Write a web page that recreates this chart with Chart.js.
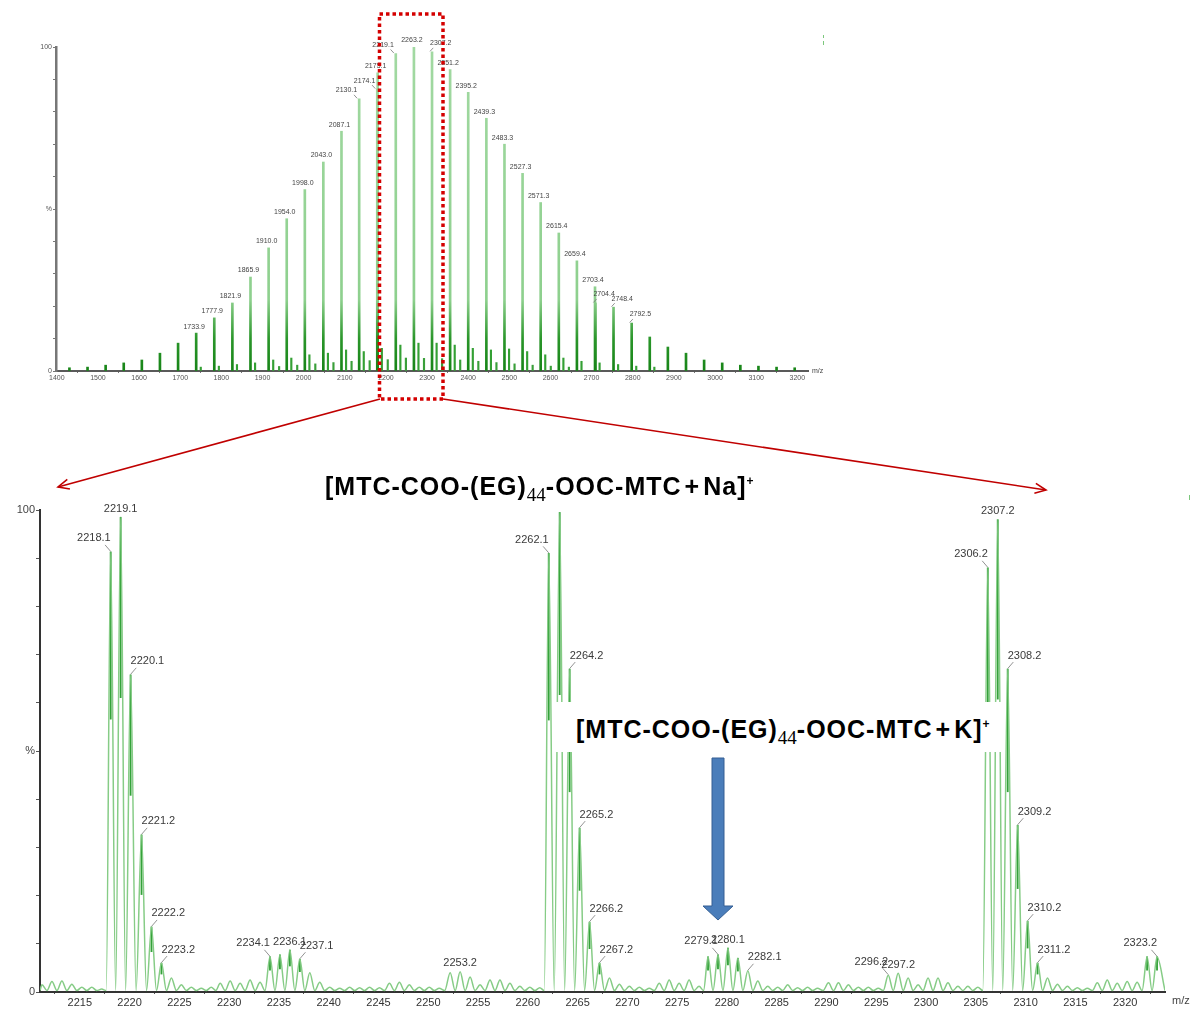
<!DOCTYPE html>
<html>
<head>
<meta charset="utf-8">
<script src="https://cdn.jsdelivr.net/npm/chart.js@4.4.1/dist/chart.umd.min.js"></script>
<style>
  html, body { margin: 0; padding: 0; background: #fff; }
  #page { position: relative; width: 1192px; height: 1010px; overflow: hidden; font-family: "Liberation Sans", Arial, sans-serif; }
  #topBox { position: absolute; left: 0; top: 0; width: 840px; height: 400px; }
  #botBox { position: absolute; left: 0; top: 495px; width: 1192px; height: 515px; }
  #kbox { position: absolute; left: 556px; top: 702px; width: 448px; height: 50px; background: #fff; }
  .formula { position: absolute; font-weight: bold; font-size: 25px; line-height: 28px; letter-spacing: 1px; color: #000; white-space: nowrap; }
  .formula .sb { font-family: "Liberation Serif", "Times New Roman", serif; font-weight: normal; font-size: 19px; letter-spacing: 0; position: relative; top: 6px; }
  .formula .pl { margin: 0 3px; }
  .formula .sp { font-size: 12px; position: relative; top: -10px; }
  .mz { position: absolute; color: #444; }
  .tick { position: absolute; background: #7cc77c; width: 1px; }
  svg { position: absolute; left: 0; top: 0; }
</style>
</head>
<body>
<div id="page">
  <div id="topBox"><canvas id="topChart"></canvas></div>
  <div id="botBox"><canvas id="botChart"></canvas></div>
  <div id="kbox"></div>
  <div class="formula" style="left:325px;top:472px">[MTC-COO-(EG)<span class="sb">44</span>-OOC-MTC<span class="pl">+</span>Na]<span class="sp">+</span></div>
  <div class="formula" style="left:576px;top:715px">[MTC-COO-(EG)<span class="sb">44</span>-OOC-MTC<span class="pl">+</span>K]<span class="sp">+</span></div>
  <div class="mz" style="left:812px;top:367px;font-size:7px">m/z</div>
  <div class="mz" style="left:1172px;top:994px;font-size:11px">m/z</div>
  <div class="tick" style="left:823px;top:35px;height:3px"></div>
  <div class="tick" style="left:823px;top:41px;height:4px"></div>
  <div class="tick" style="left:1189px;top:495px;height:5px"></div>
  <svg width="1192" height="1010">
    <defs>
      <marker id="head" markerUnits="userSpaceOnUse" markerWidth="14" markerHeight="14" refX="12" refY="6" orient="auto">
        <path d="M1,1 L12,6 L1,11" fill="none" stroke="#c00000" stroke-width="1.6"/>
      </marker>
    </defs>
    <rect x="379.5" y="14" width="63.5" height="385" fill="none" stroke="#d40000" stroke-width="3.5" stroke-dasharray="3.5 3"/>
    <line x1="380" y1="399" x2="58" y2="487" stroke="#c00000" stroke-width="1.6" marker-end="url(#head)"/>
    <line x1="443" y1="399" x2="1046" y2="490" stroke="#c00000" stroke-width="1.6" marker-end="url(#head)"/>
    <polygon points="712,758 724,758 724,906 733,906 718,920 703,906 712,906" fill="#4a7dba" stroke="#355f93" stroke-width="1"/>
  </svg>
</div>

<script>
/* ---- overview spectrum (m/z 1400-3200) ---- */
const topMainMz  = [1425.8, 1469.8, 1513.8, 1557.8, 1601.8, 1645.8, 1689.9, 1733.9, 1777.9, 1821.9, 1865.9, 1910.0, 1954.0,
                    1998.0, 2043.0, 2087.1, 2130.1, 2174.1, 2175.1, 2219.1, 2263.2, 2307.2, 2351.2, 2395.2, 2439.3, 2483.3,
                    2527.3, 2571.3, 2615.4, 2659.4, 2703.4, 2704.4, 2748.4, 2792.5, 2836.5, 2880.5, 2924.6, 2968.6, 3012.6,
                    3056.7, 3100.7, 3144.7, 3188.8];
const topMainPct = [1.0, 1.2, 1.8, 2.5, 3.4, 5.5, 8.6, 11.7, 16.4, 21.0, 29.0, 38.0, 47.0,
                    56.0, 64.5, 74.0, 84.0, 87.0, 92.0, 98.0, 100.0, 98.5, 93.0, 86.0, 78.0, 70.0,
                    61.0, 52.0, 42.6, 34.0, 26.0, 21.0, 19.7, 14.8, 10.5, 7.4, 5.5, 3.4, 2.5,
                    1.8, 1.5, 1.2, 1.0];
// K+ adduct series (+16)
const topKMz  = [1749.9, 1793.9, 1837.9, 1881.9, 1926.0, 1970.0, 2014.0, 2059.0, 2103.1, 2146.1, 2190.1, 2235.1, 2279.1,
                 2323.2, 2367.2, 2411.2, 2455.3, 2499.3, 2543.3, 2587.3, 2631.4, 2675.4, 2719.4, 2764.4, 2808.5, 2852.5];
const topKPct = [1.2, 1.5, 2.0, 2.5, 3.4, 4.0, 5.0, 5.5, 6.5, 6.0, 7.0, 8.0, 8.6,
                 8.6, 8.0, 7.0, 6.5, 6.8, 6.0, 5.0, 4.0, 3.0, 2.5, 2.0, 1.5, 1.2];
// third, weaker series (+34)
const topMinorMz  = [1944.0, 1988.0, 2032.0, 2076.1, 2120.1, 2164.1, 2208.1, 2252.2, 2296.2, 2340.2, 2384.2, 2428.3, 2472.3,
                     2516.3, 2560.3, 2604.4, 2648.4];
const topMinorPct = [1.4, 1.8, 2.2, 2.6, 3.0, 3.2, 3.5, 4.0, 3.9, 3.8, 3.4, 3.0, 2.6,
                     2.2, 1.8, 1.5, 1.2];
const topLabelMz = [1733.9, 1777.9, 1821.9, 1865.9, 1910.0, 1954.0, 1998.0, 2043.0, 2087.1, 2130.1, 2174.1, 2175.1,
                    2219.1, 2263.2, 2307.2, 2351.2, 2395.2, 2439.3, 2483.3, 2527.3, 2571.3, 2615.4, 2659.4, 2703.4,
                    2704.4, 2748.4, 2792.5];

/* ---- zoomed spectrum (m/z 2211-2324) ---- */
const zoomMz = [2211.2, 2212.2, 2213.2, 2214.2, 2215.2, 2216.2, 2217.2, 2218.1, 2219.1, 2220.1, 2221.2, 2222.2, 2223.2,
                2224.2, 2225.2, 2226.2, 2227.2, 2228.2, 2229.1, 2230.1, 2231.1, 2232.1, 2233.1, 2234.1, 2235.1, 2236.1,
                2237.1, 2238.1, 2239.1, 2240.1, 2241.1, 2242.1, 2243.1, 2244.1, 2245.1, 2246.1, 2247.1, 2248.1, 2249.1,
                2250.1, 2251.1, 2252.2, 2253.2, 2254.2, 2255.2, 2256.2, 2257.2, 2258.2, 2259.2, 2260.2, 2261.2, 2262.1,
                2263.2, 2264.2, 2265.2, 2266.2, 2267.2, 2268.2, 2269.2, 2270.2, 2271.2, 2272.2, 2273.2, 2274.2, 2275.2,
                2276.2, 2277.2, 2278.1, 2279.1, 2280.1, 2281.1, 2282.1, 2283.1, 2284.1, 2285.1, 2286.1, 2287.1, 2288.1,
                2289.1, 2290.2, 2291.2, 2292.2, 2293.2, 2294.2, 2295.2, 2296.2, 2297.2, 2298.2, 2299.2, 2300.2, 2301.2,
                2302.2, 2303.2, 2304.2, 2305.2, 2306.2, 2307.2, 2308.2, 2309.2, 2310.2, 2311.2, 2312.2, 2313.2, 2314.2,
                2315.2, 2316.2, 2317.2, 2318.2, 2319.2, 2320.2, 2321.2, 2322.2, 2323.2];
const zoomPct = [1.5, 2.2, 2.3, 1.6, 1.0, 1.0, 0.6, 91.3, 98.5, 65.8, 32.6, 13.5, 6.0,
                 2.9, 1.5, 1.0, 0.8, 1.0, 1.8, 2.3, 1.8, 2.5, 2.0, 7.3, 7.7, 8.7,
                 6.8, 4.0, 2.0, 1.0, 0.8, 1.0, 0.9, 1.0, 0.9, 1.8, 2.0, 1.5, 1.0,
                 1.0, 0.8, 4.0, 4.2, 3.1, 1.5, 2.5, 2.5, 1.8, 1.2, 1.0, 0.9, 91.0,
                 99.5, 67.0, 34.0, 14.5, 6.0, 2.9, 1.6, 1.2, 1.0, 0.8, 1.8, 2.5, 1.8,
                 2.5, 1.2, 7.3, 7.7, 9.1, 7.0, 4.4, 2.3, 1.2, 1.0, 1.5, 0.9, 1.0,
                 0.8, 1.9, 1.9, 1.5, 1.0, 1.0, 0.8, 3.5, 3.9, 2.9, 1.5, 2.9, 2.9,
                 1.9, 1.2, 1.2, 1.0, 88.0, 98.0, 67.0, 34.6, 14.7, 6.0, 2.9, 1.6, 1.2,
                 0.9, 0.8, 1.9, 2.5, 1.8, 2.2, 2.0, 7.3, 7.3];
const zoomLabelMz = [2218.1, 2219.1, 2220.1, 2221.2, 2222.2, 2223.2, 2234.1, 2236.1, 2237.1, 2253.2, 2262.1, 2264.2,
                     2265.2, 2266.2, 2267.2, 2279.1, 2280.1, 2282.1, 2296.2, 2297.2, 2306.2, 2307.2, 2308.2, 2309.2,
                     2310.2, 2311.2, 2323.2];
const troughPct = 0.3;   // level the profile falls back to between isotopes

// where each peak label sits: l = left with leader, c = centred, r = right with leader
const topLabelSide = { 2130.1: 'l', 2174.1: 'l', 2219.1: 'l', 2307.2: 'r', 2704.4: 'r', 2748.4: 'r', 2792.5: 'r' };
const zoomLabelSide = { 2219.1: 'c', 2236.1: 'c', 2253.2: 'c', 2280.1: 'c', 2297.2: 'c', 2307.2: 'c',
                        2218.1: 'l', 2234.1: 'l', 2262.1: 'l', 2279.1: 'l', 2296.2: 'l', 2306.2: 'l', 2323.2: 'l' };

function pts(mz, pct) { return mz.map((m, i) => ({ x: m, y: pct[i] })); }

/* rótulos de pico com traço de ligação */
const peakLabels = {
  id: 'peakLabels',
  afterDatasetsDraw(chart, args, o) {
    const { ctx, scales: { x, y } } = chart;
    ctx.save();
    ctx.font = o.font;
    ctx.fillStyle = o.color;
    ctx.strokeStyle = '#777';
    ctx.lineWidth = 0.8;
    ctx.textBaseline = 'bottom';
    o.items.forEach(it => {
      const px = x.getPixelForValue(it.mz), py = y.getPixelForValue(it.h);
      const txt = it.mz.toFixed(1), g = o.gap, l = o.lead;
      if (it.side === 'c') {
        ctx.textAlign = 'center';
        ctx.fillText(txt, px, py - g);
        return;
      }
      const s = it.side === 'l' ? -1 : 1;
      ctx.textAlign = s < 0 ? 'right' : 'left';
      ctx.fillText(txt, px, py - l - 1);
      ctx.beginPath();
      ctx.moveTo(px, py - 0.5);
      ctx.lineTo(px + s * l * 0.8, py - l);
      ctx.stroke();
    });
    ctx.restore();
  }
};

function labelItems(list, mzArr, pctArr, sides) {
  return list.map(m => ({ mz: m, h: pctArr[mzArr.indexOf(m)], side: sides[m] || (sides === topLabelSide ? 'c' : 'r') }));
}

function yTick(v) { return v === 0 ? '0' : v === 100 ? '100' : v === 50 ? '%' : ''; }

function stickGradient(ctx) {
  const a = ctx.chart.chartArea;
  if (!a) return '#3c9c3c';
  const g = ctx.chart.ctx.createLinearGradient(0, a.bottom, 0, a.top);
  g.addColorStop(0, '#178417');
  g.addColorStop(0.1, '#2a962a');
  g.addColorStop(0.22, '#8ed08e');
  g.addColorStop(1, '#a2d9a2');
  return g;
}

/* ---- top chart ---- */
new Chart(document.getElementById('topChart'), {
  type: 'bar',
  data: {
    datasets: [
      { data: pts(topMinorMz, topMinorPct), backgroundColor: '#3a9f3a', barThickness: 1.5 },
      { data: pts(topKMz, topKPct), backgroundColor: '#34a034', barThickness: 1.5 },
      { data: pts(topMainMz, topMainPct), backgroundColor: stickGradient, barThickness: 2 }
    ]
  },
  options: {
    responsive: true, maintainAspectRatio: false, animation: false,
    layout: { padding: { top: 47, right: 32, left: 0, bottom: 0 } },
    plugins: {
      legend: { display: false }, tooltip: { enabled: false },
      peakLabels: { font: '7px "Liberation Sans", Arial', color: '#444', gap: 3, lead: 4,
                    items: labelItems(topLabelMz, topMainMz, topMainPct, topLabelSide) }
    },
    scales: {
      x: { type: 'linear', min: 1398, max: 3226, offset: false,
           afterFit: s => { s.height = 29; },
           ticks: { stepSize: 100, includeBounds: false, autoSkip: false, maxRotation: 0, padding: 1,
                    font: { size: 7, family: 'Liberation Sans' }, color: '#555', callback: v => String(v) },
           grid: { drawOnChartArea: false, tickLength: 2, color: '#777' },
           border: { color: '#5a5a5a', width: 2 } },
      y: { min: 0, max: 100,
           afterFit: s => { s.width = 56; },
           ticks: { stepSize: 10, autoSkip: false, padding: 1, font: { size: 7, family: 'Liberation Sans' },
                    color: '#555', callback: yTick },
           grid: { drawOnChartArea: false, tickLength: 3, color: '#777' },
           border: { color: '#777', width: 2.5 } }
    }
  },
  plugins: [peakLabels]
});

/* ---- bottom chart ---- */
const profile = [];
zoomMz.forEach((m, i) => {
  if (i === 0) profile.push({ x: 2211, y: troughPct });
  profile.push({ x: m, y: zoomPct[i] });
  const next = i < zoomMz.length - 1 ? (m + zoomMz[i + 1]) / 2 : 2324;
  profile.push({ x: next, y: troughPct });
});
const sticks = zoomMz.map((m, i) => ({ x: m, y: zoomPct[i] > 5 ? [zoomPct[i] * 0.62, zoomPct[i]] : null }))
                     .filter(p => p.y);

new Chart(document.getElementById('botChart'), {
  type: 'line',
  data: {
    datasets: [
      { type: 'line', data: profile, borderColor: '#86cc86', borderWidth: 1.5, pointRadius: 0,
        cubicInterpolationMode: 'monotone', fill: false },
      { type: 'bar', data: sticks, backgroundColor: '#34a23a', barThickness: 1.2 }
    ]
  },
  options: {
    responsive: true, maintainAspectRatio: false, animation: false,
    layout: { padding: { top: 15, right: 27, left: 0, bottom: 0 } },
    plugins: {
      legend: { display: false }, tooltip: { enabled: false },
      peakLabels: { font: '11px "Liberation Sans", Arial', color: '#3a3a3a', gap: 3, lead: 7,
                    items: labelItems(zoomLabelMz, zoomMz, zoomPct, zoomLabelSide) }
    },
    scales: {
      x: { type: 'linear', min: 2211, max: 2324, offset: false,
           afterFit: s => { s.height = 18; },
           ticks: { stepSize: 5, includeBounds: false, autoSkip: false, maxRotation: 0, padding: 2,
                    font: { size: 11, family: 'Liberation Sans' }, color: '#333', callback: v => String(v) },
           grid: { drawOnChartArea: false, tickLength: 2, color: '#555' },
           border: { color: '#333', width: 2 } },
      y: { min: 0, max: 100,
           afterFit: s => { s.width = 40; },
           ticks: { stepSize: 10, autoSkip: false, padding: 1, font: { size: 11, family: 'Liberation Sans' },
                    color: '#444', callback: yTick },
           grid: { drawOnChartArea: false, tickLength: 4, color: '#555' },
           border: { color: '#333', width: 2 } }
    }
  },
  plugins: [peakLabels]
});
</script>
</body>
</html>
